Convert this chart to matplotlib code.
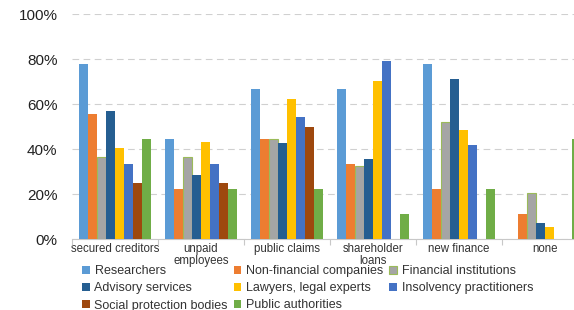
import matplotlib
matplotlib.use("Agg")
import matplotlib.pyplot as plt
import numpy as np

categories = ["secured creditors", "unpaid\nemployees", "public claims",
              "shareholder\nloans", "new finance", "none"]
series_names = ["Researchers", "Non-financial companies", "Financial institutions",
                "Advisory services", "Lawyers, legal experts", "Insolvency practitioners",
                "Social protection bodies", "Public authorities"]
researchers   = [77.8, 44.4, 66.7, 66.7, 77.8, 0.0]
nonfinancial  = [55.6, 22.2, 44.4, 33.3, 22.2, 11.1]
financial     = [36.4, 36.4, 44.4, 32.4, 52.3, 20.4]
advisory      = [57.1, 28.6, 42.9, 35.7, 71.4, 7.1]
lawyers       = [40.7, 43.2, 62.2, 70.3, 48.6, 5.4]
insolvency    = [33.3, 33.3, 54.2, 79.2, 41.7, 0.0]
social        = [25.0, 25.0, 50.0, 0.0, 0.0, 0.0]
public        = [44.4, 22.2, 22.2, 11.1, 22.2, 44.4]
series_values = [researchers, nonfinancial, financial, advisory, lawyers,
                 insolvency, social, public]
yticks = [0, 20, 40, 60, 80, 100]
ytick_labels = ["0%", "20%", "40%", "60%", "80%", "100%"]

colors = ["#5B9BD5", "#ED7D31", "#A5A5A5", "#255E91", "#FFC000",
          "#4472C4", "#9E480E", "#70AD47"]
edges = [None, None, "#9BBB59", None, None, None, None, None]

plt.rcParams['font.family'] = ['Liberation Sans', 'DejaVu Sans']

fig = plt.figure(figsize=(5.74, 3.10), dpi=100)
ax = fig.add_axes([72/574, 70.7/310, 516/574, 225/310])

n = len(series_names)
bw = 0.106
x = np.arange(len(categories)) + 0.5
handles = []
for i, (name, vals) in enumerate(zip(series_names, series_values)):
    pos = x - n*bw/2 + bw*(i + 0.5)
    if edges[i]:
        h = ax.bar(pos, vals, bw, color=colors[i], edgecolor=edges[i], linewidth=0.8,
                   label=name, zorder=3)
    else:
        h = ax.bar(pos, vals, bw, color=colors[i], linewidth=0, label=name, zorder=3)
    handles.append(h)

ax.set_xlim(0, len(categories))
ax.set_ylim(0, 100)
ax.set_yticks(yticks)
ax.set_yticklabels(ytick_labels, fontsize=11)
ax.yaxis.grid(True, linestyle=(0, (6, 4)), color="#D0D0D0", linewidth=0.8, zorder=0)
ax.tick_params(axis='y', length=0, pad=10.5, colors="#222222")
ax.set_xticks(x)
ax.set_xticklabels(categories, fontsize=8.3, color="#333333", linespacing=0.92)
ax.set_xticks(np.arange(0, len(categories)+1), minor=True)
ax.tick_params(axis='x', which='major', length=0, pad=3)
ax.tick_params(axis='x', which='minor', length=4, color="#C8C8C8", width=0.8)
for s in ["top", "right", "left"]:
    ax.spines[s].set_visible(False)
ax.spines["bottom"].set_color("#C8C8C8")
ax.spines["bottom"].set_linewidth(0.8)
ax.set_axisbelow(True)

order = [0, 3, 6, 1, 4, 7, 2, 5]
leg = fig.legend([handles[k] for k in order], [series_names[k] for k in order],
                 ncol=3, loc="upper left", bbox_to_anchor=(82/574, 1 - 265/310),
                 frameon=False, fontsize=9, handlelength=0.6, handleheight=0.6,
                 handletextpad=0.4, columnspacing=0.45, labelspacing=0.42,
                 borderpad=0, borderaxespad=0)
for t in leg.get_texts():
    t.set_color("#333333")

fig.savefig("out.png", dpi=100)
